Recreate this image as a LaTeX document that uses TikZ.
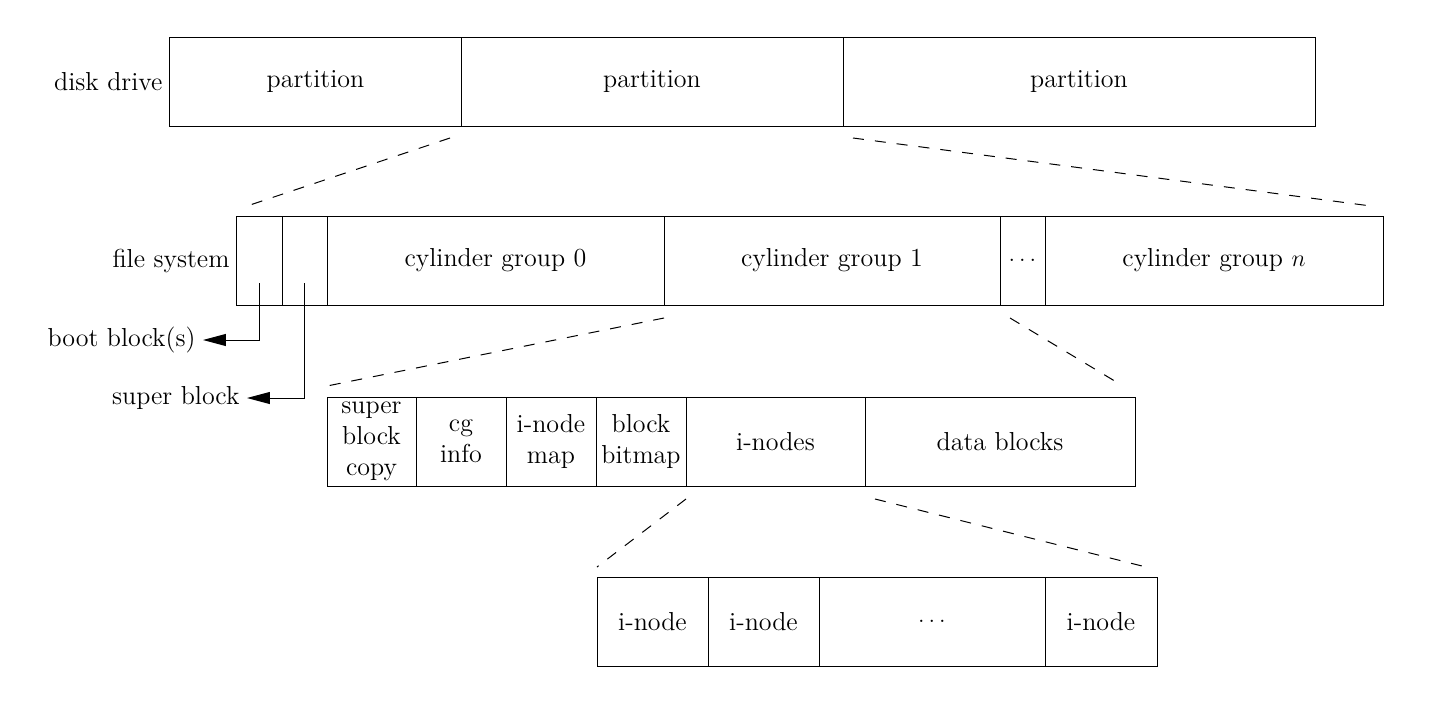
\documentclass[tikz,border=0pt]{standalone}
\usetikzlibrary{positioning,arrows.meta}

\begin{document}
\begin{tikzpicture}[
    font=\fontsize{13}{15.5}\selectfont,
    line width=0.5pt,
    part/.style={%
      draw,
      rectangle,
      outer sep=0pt,
      inner xsep=1pt,
      inner ysep=0pt,
      minimum height=44.5pt,
      align=center,
    },
    lbl/.style={%
      inner sep=3.5pt,
    },
    guide/.style={%
      dash pattern=on 5.5pt off 5.5pt,
    },
    pointer/.style={%
      -{Triangle[length=11.5pt,width=6pt]},
    },
  ]
    \useasboundingbox (-85pt,18.5pt) rectangle (638pt,-332.5pt);

    % disk drive
    \node [part, anchor=north west, minimum width=145.5pt] (P1) at (0,0) {partition};
    \node [part, right=0pt of P1, minimum width=191pt] (P2) {partition};
    \node [part, right=0pt of P2, minimum width=236pt] (P3) {partition};
    \node [lbl, left=0pt of P1] (disk) {disk drive};

    % file system
    \node [part, anchor=north west, minimum width=22.5pt] (F1) at ([xshift=33.5pt,yshift=-45pt]P1.south west) {};
    \node [part, right=0pt of F1, minimum width=22.5pt] (F2) {};
    \node [part, right=0pt of F2, minimum width=168.5pt] (CG0) {cylinder group 0};
    \node [part, right=0pt of CG0, minimum width=168pt] (CG1) {cylinder group 1};
    \node [part, right=0pt of CG1, minimum width=22.5pt] (DOTS) {$\ldots$};
    \node [part, right=0pt of DOTS, minimum width=169pt] (CGN) {cylinder group $n$};
    \node [lbl, left=0pt of F1] (fs) {file system};

    \node [lbl, anchor=east] (boot) at ([xshift=-17pt,yshift=-17.5pt]F1.south west) {boot block(s)};
    \node [lbl, anchor=east] (super) at ([xshift=-17.5pt,yshift=-46.5pt]F2.south west) {super block};
    \draw [pointer] ([yshift=-11.25pt]F1.center) |- (boot.east);
    \draw [pointer] ([yshift=-11.25pt]F2.center) |- (super.east);

    % cylinder group
    \node [part, anchor=north west, minimum width=44.5pt] (SBC) at ([yshift=-46pt]CG0.south west) {super\\block\\copy};
    \node [part, right=0pt of SBC, minimum width=45pt] (CGI) {cg\\info};
    \node [part, right=0pt of CGI, minimum width=45pt] (IMAP) {i-node\\map};
    \node [part, right=0pt of IMAP, minimum width=45pt] (BMAP) {block\\bitmap};
    \node [part, right=0pt of BMAP, minimum width=89.5pt] (INODES) {i-nodes};
    \node [part, right=0pt of INODES, minimum width=135pt] (DATA) {data blocks};

    % i-node array
    \node [part, anchor=north west, minimum width=55.5pt] (I1) at ([xshift=0.5pt,yshift=-45.5pt]BMAP.south west) {i-node};
    \node [part, right=0pt of I1, minimum width=55.5pt] (I2) {i-node};
    \node [part, right=0pt of I2, minimum width=113pt] (IDOTS) {$\ldots$};
    \node [part, right=0pt of IDOTS, minimum width=56pt] (I4) {i-node};

    \draw [guide] ([xshift=-5.5pt,yshift=-6pt]P1.south east) -- ([xshift=5pt,yshift=5pt]F1.north west);
    \draw [guide] ([xshift=5pt,yshift=-6pt]P3.south west) -- ([xshift=-6pt,yshift=5pt]CGN.north east);
    \draw [guide] ([yshift=-6.5pt]CG1.south west) -- ([yshift=5.5pt]SBC.north west);
    \draw [guide] ([xshift=5pt,yshift=-6.5pt]DOTS.south west) -- ([xshift=-6pt,yshift=5.5pt]DATA.north east);
    \draw [guide] ([yshift=-6.5pt]INODES.south west) -- ([yshift=5pt]I1.north west);
    \draw [guide] ([xshift=5pt,yshift=-6.5pt]DATA.south west) -- ([xshift=-5.5pt,yshift=5pt]I4.north east);
\end{tikzpicture}
\end{document}
